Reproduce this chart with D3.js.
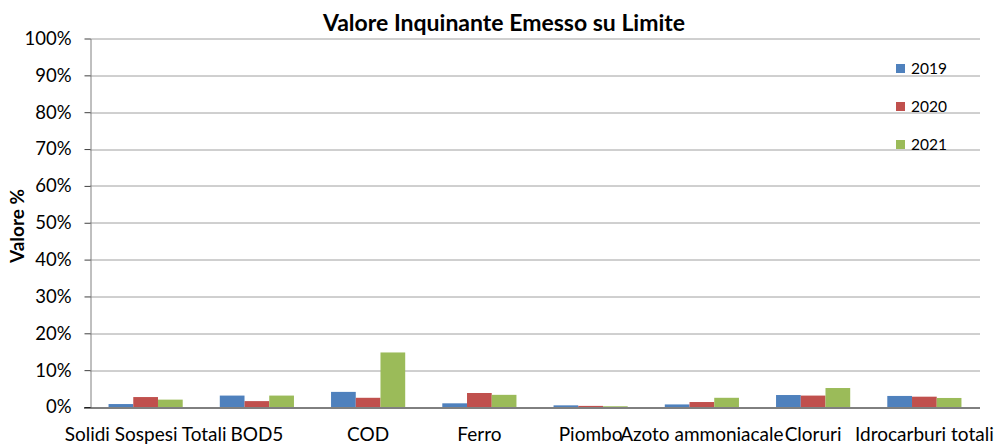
<!DOCTYPE html>
<html>
<head>
<meta charset="utf-8">
<script src="https://cdn.jsdelivr.net/npm/d3@7"></script>
<style>
  body { margin: 0; background: #fff; }
  text { font-family: Lato, "Open Sans", sans-serif; fill: #000; }
</style>
</head>
<body>
<svg id="vis" width="998" height="444"></svg>
<script>
// data
const categories = ["Solidi Sospesi Totali", "BOD5", "COD", "Ferro", "Piombo", "Azoto ammoniacale", "Cloruri", "Idrocarburi totali"];
const years = ["2019", "2020", "2021"];
const v2019 = [0.8, 3.1, 4.1, 1.0, 0.45, 0.7, 3.25, 3.0];
const v2020 = [2.7, 1.6, 2.5, 3.8, 0.3, 1.35, 3.1, 2.8];
const v2021 = [2.0, 3.1, 14.8, 3.3, 0.2, 2.5, 5.15, 2.45];
const yTicks = [0, 10, 20, 30, 40, 50, 60, 70, 80, 90, 100];
const colors = ["#4F81BD", "#C0504D", "#9BBB59"];

const series = [v2019, v2020, v2021];

const svg = d3.select("svg#vis");
const margin = {top: 38.5, right: 18, bottom: 37, left: 90};
const width = 998 - margin.left - margin.right,
  height = 444 - margin.top - margin.bottom;

const g = svg.append("g")
  .attr("transform", "translate(" + margin.left + "," + margin.top + ")");

const x = d3.scaleBand()
  .domain(categories)
  .range([0, width]);

const xi = d3.scaleBand()
  .domain(years)
  .range([0, x.bandwidth()])
  .paddingInner(0)
  .paddingOuter(0.75);

const y = d3.scaleLinear()
  .domain([0, 100])
  .range([height, 0]);

// gridlines
g.append("g")
  .selectAll("line")
  .data(yTicks.slice(1))
  .enter()
  .append("line")
  .attr("x1", 0)
  .attr("x2", width)
  .attr("y1", d => Math.round(y(d)) + 0.5)
  .attr("y2", d => Math.round(y(d)) + 0.5)
  .attr("stroke", "#a0a0a0")
  .attr("stroke-width", 1);

// y axis
const yAxis = g.append("g")
  .attr("transform", "translate(0.5,0)")
  .call(d3.axisLeft(y).tickValues(yTicks).tickFormat(d => d + "%").tickSize(6).tickSizeOuter(0));
yAxis.select(".domain").attr("stroke", "#808080");
yAxis.selectAll(".tick line").attr("stroke", "#404040");
yAxis.selectAll(".tick text")
  .attr("x", -19)
  .style("font-size", "18.5px")
  .style("font-family", "Lato, sans-serif");

// bars
const groups = g.selectAll("g.cat")
  .data(categories)
  .enter()
  .append("g")
  .attr("class", "cat")
  .attr("transform", d => "translate(" + x(d) + ",0)");

groups.selectAll("rect")
  .data((d, i) => years.map((yr, j) => ({year: yr, value: series[j][i], idx: j})))
  .enter()
  .append("rect")
  .attr("x", d => xi(d.year))
  .attr("width", xi.bandwidth())
  .attr("y", d => y(d.value))
  .attr("height", d => height - y(d.value))
  .attr("fill", d => colors[d.idx]);

// x axis
const xAxis = g.append("g")
  .attr("transform", "translate(0," + (Math.round(height) + 0.5) + ")")
  .call(d3.axisBottom(x).tickSize(0).tickSizeOuter(0));
xAxis.select(".domain").attr("stroke", "#000").attr("d", "M-6,0H" + width);
xAxis.selectAll(".tick text")
  .attr("y", 32.5)
  .attr("dy", 0)
  .style("font-size", "19px")
  .style("font-family", "Lato, sans-serif");

// title
svg.append("text")
  .attr("x", 504)
  .attr("y", 31)
  .attr("text-anchor", "middle")
  .style("font-weight", "bold")
  .style("font-size", "23px")
  .text("Valore Inquinante Emesso su Limite");

// y label
svg.append("text")
  .attr("transform", "translate(24,226) rotate(-90)")
  .attr("text-anchor", "middle")
  .style("font-weight", "bold")
  .style("font-size", "19px")
  .text("Valore %");

// legend
const legend = svg.append("g").attr("transform", "translate(896,0)");
const leg = legend.selectAll("g")
  .data(years)
  .enter()
  .append("g")
  .attr("transform", (d, i) => "translate(0," + (64 + i * 38) + ")");
leg.append("rect")
  .attr("width", 9)
  .attr("height", 9)
  .attr("fill", (d, i) => colors[i]);
leg.append("text")
  .attr("x", 15)
  .attr("y", 10)
  .style("font-size", "15.5px")
  .text(d => d);
</script>
</body>
</html>
